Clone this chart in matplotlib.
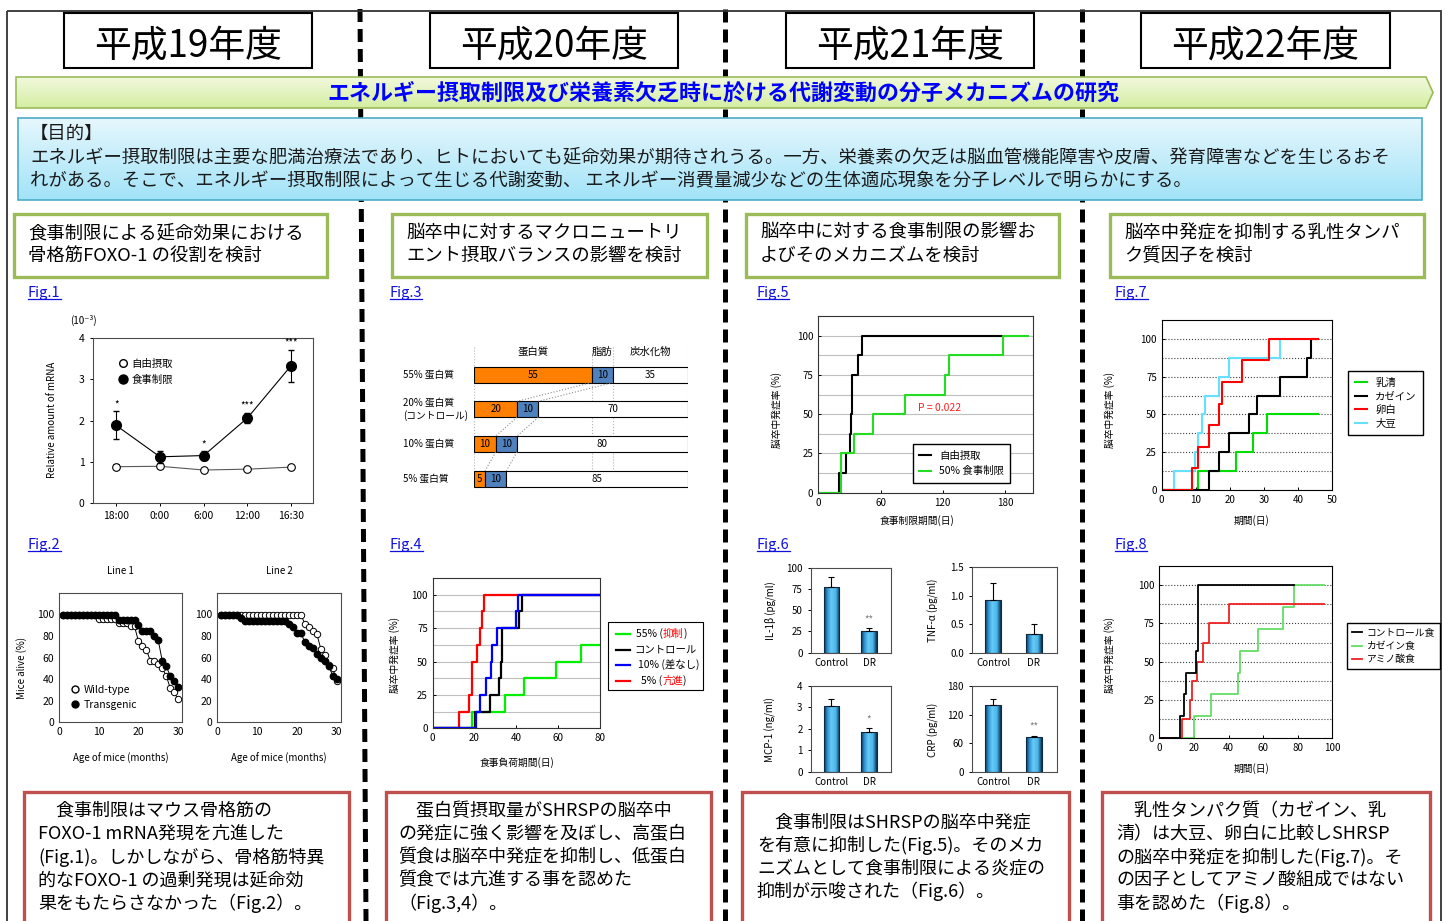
"""Research summary poster: energy restriction, FOXO-1 and stroke in SHRSP."""

import matplotlib
matplotlib.use('Agg')
import matplotlib.pyplot as plt
import numpy as np
from matplotlib.colors import LinearSegmentedColormap
from matplotlib.lines import Line2D
from matplotlib.patches import Polygon, Rectangle

plt.rcParams['font.family'] = ['Noto Sans CJK JP', 'DejaVu Sans']
plt.rcParams['font.size'] = 7
plt.rcParams['axes.linewidth'] = 0.8
plt.rcParams['xtick.major.size'] = 2.5
plt.rcParams['ytick.major.size'] = 2.5
plt.rcParams['xtick.major.width'] = 0.7
plt.rcParams['ytick.major.width'] = 0.7

W, H = 1450, 921

# ---------------------------------------------------------------- texts
year_titles = ['平成19年度', '平成20年度', '平成21年度', '平成22年度']
banner_title = 'エネルギー摂取制限及び栄養素欠乏時に於ける代謝変動の分子メカニズムの研究'
purpose_head = '【目的】'
purpose_lines = [
    'エネルギー摂取制限は主要な肥満治療法であり、ヒトにおいても延命効果が期待されうる。'
    '一方、栄養素の欠乏は脳血管機能障害や皮膚、発育障害などを生じるおそ',
    'れがある。そこで、エネルギー摂取制限によって生じる代謝変動、 '
    'エネルギー消費量減少などの生体適応現象を分子レベルで明らかにする。',
]
topic_lines = [
    ['食事制限による延命効果における', '骨格筋FOXO-1 の役割を検討'],
    ['脳卒中に対するマクロニュートリ', 'エント摂取バランスの影響を検討'],
    ['脳卒中に対する食事制限の影響お', 'よびそのメカニズムを検討'],
    ['脳卒中発症を抑制する乳性タンパ', 'ク質因子を検討'],
]
summary_lines = [
    ['　食事制限はマウス骨格筋の', 'FOXO-1 mRNA発現を亢進した',
     '(Fig.1)。しかしながら、骨格筋特異', '的なFOXO-1 の過剰発現は延命効',
     '果をもたらさなかった（Fig.2）。'],
    ['　蛋白質摂取量がSHRSPの脳卒中', 'の発症に強く影響を及ぼし、高蛋白',
     '質食は脳卒中発症を抑制し、低蛋白', '質食では亢進する事を認めた',
     '（Fig.3,4）。'],
    ['　食事制限はSHRSPの脳卒中発症', 'を有意に抑制した(Fig.5)。そのメカ',
     'ニズムとして食事制限による炎症の', '抑制が示唆された（Fig.6）。'],
    ['　乳性タンパク質（カゼイン、乳', '清）は大豆、卵白に比較しSHRSP',
     'の脳卒中発症を抑制した(Fig.7)。そ', 'の因子としてアミノ酸組成ではない',
     '事を認めた（Fig.8）。'],
]
fig_names = [['Fig.1', 'Fig.2'], ['Fig.3', 'Fig.4'],
             ['Fig.5', 'Fig.6'], ['Fig.7', 'Fig.8']]

# ---------------------------------------------------------------- Fig.1
fig1_times = ['18:00', '0:00', '6:00', '12:00', '16:30']
fig1_free = [0.88, 0.89, 0.80, 0.82, 0.87]
fig1_free_err = [0.06, 0.04, 0.02, 0.02, 0.02]
fig1_dr = [1.88, 1.12, 1.15, 2.06, 3.33]
fig1_dr_err = [0.34, 0.15, 0.10, 0.13, 0.39]
fig1_stars = ['*', '', '*', '***', '***']
fig1_legend = ['自由摂取', '食事制限']

# ---------------------------------------------------------------- Fig.2
fig2_months = list(range(1, 31))
fig2_line1_wt = [100, 100, 100, 100, 100, 100, 100, 100, 100, 96,
                 96, 96, 96, 96, 92, 92, 92, 89, 89, 75,
                 71, 67, 57, 57, 54, 50, 43, 32, 28, 21]
fig2_line1_tg = [100, 100, 100, 100, 100, 100, 100, 100, 100, 100,
                 100, 100, 100, 100, 95, 95, 95, 95, 95, 90,
                 85, 85, 85, 80, 76, 57, 52, 43, 38, 33]
fig2_line2_wt = [100, 100, 100, 100, 100, 100, 100, 100, 100, 100,
                 100, 100, 100, 100, 100, 100, 100, 100, 100, 100,
                 100, 91, 88, 85, 82, 68, 62, 53, 50, 38]
fig2_line2_tg = [100, 100, 100, 100, 100, 97, 94, 94, 94, 94,
                 94, 94, 94, 94, 94, 94, 94, 91, 88, 83,
                 83, 74, 71, 69, 63, 60, 57, 52, 43, 40]
fig2_titles = ['Line 1', 'Line 2']
fig2_legend = ['Wild-type', 'Transgenic']

# ---------------------------------------------------------------- Fig.3
fig3_rows = ['55% 蛋白質', '20% 蛋白質\n(コントロール)', '10% 蛋白質', '5% 蛋白質']
fig3_protein = [55, 20, 10, 5]
fig3_fat = [10, 10, 10, 10]
fig3_carb = [35, 70, 80, 85]
fig3_headers = ['蛋白質', '脂肪', '炭水化物']

# ---------------------------------------------------------------- Fig.4
fig4_labels = ['55% (抑制)', 'コントロール', '10% (差なし)', '5% (亢進)']
fig4_highlight = ['抑制', None, None, '亢進']
fig4_days = [
    [0, 18.6, 34.6, 43.8, 59.0, 70.9, 80],
    [0, 20.2, 27.6, 31.6, 32.5, 33.3, 41.4, 42.5, 80],
    [0, 20.6, 22.6, 25.5, 27.7, 28.5, 30.6, 39.8, 41.0, 80],
    [0, 12.6, 17.5, 18.6, 21.4, 22.6, 23.4, 24.5, 80],
]
fig4_pct = [
    [0, 12.5, 25, 37.5, 50, 62.5, 62.5],
    [0, 12.5, 25, 37.5, 50, 75, 87.5, 100, 100],
    [0, 12.5, 25, 37.5, 50, 62.5, 75, 87.5, 100, 100],
    [0, 12.5, 25, 50, 62.5, 75, 87.5, 100, 100],
]
fig4_colors = ['#00ee00', 'black', '#0000ff', '#ff0000']

# ---------------------------------------------------------------- Fig.5
fig5_labels = ['自由摂取', '50% 食事制限']
fig5_days = [
    [0, 19.9, 26.7, 30.5, 31.8, 32.8, 38.6, 41.8, 178.4],
    [0, 21.9, 34.7, 53.0, 83.6, 122.0, 126.0, 178.4, 202.5],
]
fig5_pct = [
    [0, 12.5, 25, 37.5, 50, 75, 87.5, 100, 100],
    [0, 25, 37.5, 50, 62.5, 75, 87.5, 100, 100],
]
fig5_colors = ['black', '#22dd22']
fig5_p = 'P = 0.022'

# ---------------------------------------------------------------- Fig.6
fig6_groups = ['Control', 'DR']
fig6_names = ['IL-1β (pg/ml)', 'TNF-α (pg/ml)', 'MCP-1 (ng/ml)', 'CRP (pg/ml)']
fig6_means = [[77, 26], [0.92, 0.33], [3.05, 1.85], [141, 72]]
fig6_errs = [[12, 3.5], [0.29, 0.17], [0.32, 0.18], [12, 4]]
fig6_stars = [['', '**'], ['', ''], ['', '*'], ['', '**']]
fig6_ymax = [100, 1.5, 4, 180]
fig6_ticks = [[0, 25, 50, 75, 100], [0.0, 0.5, 1.0, 1.5], [0, 1, 2, 3, 4],
              [0, 60, 120, 180]]

# ---------------------------------------------------------------- Fig.7
fig7_labels = ['乳清', 'カゼイン', '卵白', '大豆']
fig7_days = [
    [0, 10.7, 21.7, 26.7, 30.8, 45.7],
    [0, 13.9, 16.7, 19.7, 25.7, 27.8, 34.7, 42.7, 43.8, 45.7],
    [0, 8.8, 10.7, 13.9, 16.8, 17.6, 23.6, 31.5, 45.7],
    [0, 3.6, 9.8, 10.7, 11.7, 12.7, 16.7, 19.7, 34.7],
]
fig7_pct = [
    [0, 12.5, 25, 37.5, 50, 50],
    [0, 12.5, 25, 37.5, 50, 62.5, 75, 87.5, 100, 100],
    [0, 14.3, 28.6, 42.9, 57.1, 71.4, 85.7, 100, 100],
    [0, 12.5, 25, 37.5, 50, 62.5, 75, 87.5, 100],
]
fig7_colors = ['#00dd00', 'black', '#ff0000', '#66e0ff']
fig7_order = [0, 1, 3, 2]

# ---------------------------------------------------------------- Fig.8
fig8_labels = ['コントロール食', 'カゼイン食', 'アミノ酸食']
fig8_days = [
    [0, 11.9, 14.5, 15.4, 21.2, 22.5, 77.6],
    [0, 20.2, 29.7, 45.7, 46.4, 57.2, 71.7, 77.6, 95.4],
    [0, 13.3, 17.7, 18.7, 21.6, 25.4, 28.7, 40.5, 95.4],
]
fig8_pct = [
    [0, 14.3, 28.6, 42.9, 57.1, 100, 100],
    [0, 14.3, 28.6, 42.9, 57.1, 71.4, 85.7, 100, 100],
    [0, 12.5, 25, 37.5, 50, 62.5, 75, 87.5, 87.5],
]
fig8_colors = ['black', '#66dd66', '#ee2222']
fig8_order = [1, 2, 0]

stroke_ylabel = '脳卒中発症率 (%)'


def px_axes(fig, x0, y0, x1, y1):
    """Axes placed by pixel box (y measured from the top)."""
    ax = fig.add_axes([x0 / W, 1 - y1 / H, (x1 - x0) / W, (y1 - y0) / H])
    ax.patch.set_alpha(0)
    return ax


def gradient_fill(bg, patch, top, bottom):
    bg.add_patch(patch)
    x0, y0 = patch.get_path().vertices.min(axis=0)
    x1, y1 = patch.get_path().vertices.max(axis=0)
    if isinstance(patch, Rectangle):
        x0, y0 = patch.get_x(), patch.get_y()
        x1, y1 = x0 + patch.get_width(), y0 + patch.get_height()
    cmap = LinearSegmentedColormap.from_list('fill', [top, bottom])
    im = bg.imshow(np.linspace(0, 1, 64).reshape(-1, 1), cmap=cmap,
                   extent=(x0, x1, y1, y0), origin='upper', aspect='auto',
                   zorder=2)
    im.set_clip_path(patch)


def rich_text(ax, x, y, pieces, **kw):
    t = ax.text(x, y, pieces[0][0], color=pieces[0][1], va='center',
                ha='left', **kw)
    for s, c in pieces[1:]:
        t = ax.annotate(s, xy=(1, 0.5), xycoords=t, va='center', ha='left',
                        color=c, **kw)


def stroke_axes(ax, xmax, xticks, dotted):
    ax.set_xlim(0, xmax)
    ax.set_ylim(0, 112.5)
    ax.set_xticks(xticks)
    ax.set_yticks([0, 25, 50, 75, 100])
    ax.set_yticks(np.arange(12.5, 101, 12.5), minor=True)
    ax.tick_params(which='minor', length=0)
    ax.tick_params(direction='in', labelsize=7)
    if dotted:
        ax.grid(axis='y', which='both', color='0.25', ls=':', lw=0.8)
    else:
        ax.grid(axis='y', which='both', color='0.75', lw=0.8)
    ax.set_axisbelow(True)
    for s in ax.spines.values():
        s.set_color('0.2' if not dotted else 'black')


fig = plt.figure(figsize=(W / 100, H / 100), dpi=100)
bg = fig.add_axes([0, 0, 1, 1])
bg.set_xlim(0, W)
bg.set_ylim(H, 0)
bg.set_autoscale_on(False)
bg.axis('off')

# ---------------------------------------------------------------- frame
bg.add_patch(Rectangle((7, 11), 1434, 940, fill=False, ec='#333333',
                       lw=1.3, zorder=1.5))
for (xt, xb) in [(360, 366), (725, 725), (1082, 1082)]:
    bg.plot([xt, xb], [9, H], color='black', lw=3.6, ls=(0, (2.6, 1.4)),
            zorder=1)

for title, (x0, x1) in zip(year_titles, [(64, 312), (430, 678),
                                          (786, 1034), (1141, 1390)]):
    bg.add_patch(Rectangle((x0, 13), x1 - x0, 55, fc='white', ec='black',
                           lw=1.5, zorder=3))
    bg.text((x0 + x1) / 2, 46, title, fontsize=26.5, ha='center',
            va='center', zorder=4)

banner = Polygon([(16, 77), (1426, 77), (1433, 92.5), (1426, 108), (16, 108)],
                 closed=True, fc='none', ec='#9bbb59', lw=1.2, zorder=3)
gradient_fill(bg, banner, '#f1f9dd', '#d5eea2')
bg.text(723, 93, banner_title, fontsize=15.8, fontweight='bold',
        color='#0000ff', ha='center', va='center', zorder=4)

purpose = Rectangle((18, 118), 1404, 82, fc='none', ec='#4bacc6', lw=1.2,
                    zorder=3)
gradient_fill(bg, purpose, '#e6f7fd', '#a2e3f8')
bg.text(30, 134, purpose_head, fontsize=13.2, color='#1a1a1a', va='center',
        zorder=4)
for i, line in enumerate(purpose_lines):
    bg.text(30, 157 + 24 * i, line, fontsize=13.2, color='#1a1a1a',
            va='center', zorder=4)

for lines, (x0, x1), tx in zip(topic_lines,
                               [(14, 327), (392, 707), (746, 1059),
                                (1110, 1424)],
                               [28, 406, 760, 1124]):
    bg.add_patch(Rectangle((x0, 214), x1 - x0, 63, fc='white', ec='#9bbb59',
                           lw=2.4, zorder=3))
    for i, line in enumerate(lines):
        bg.text(tx, 233 + 23 * i, line, fontsize=13.2, va='center', zorder=4)

for lines, (x0, x1), tx, ty in zip(summary_lines,
                                   [(24, 349), (386, 711), (742, 1069),
                                    (1102, 1430)],
                                   [38, 398, 757, 1116],
                                   [811, 811, 822, 811]):
    bg.add_patch(Rectangle((x0, 792), x1 - x0, 160, fc='white', ec='#c0504d',
                           lw=2.4, zorder=3))
    for i, line in enumerate(lines):
        bg.text(tx, ty + 23 * i, line, fontsize=13, va='center', zorder=4)

fig_label_texts = []
for names, fx in zip(fig_names, [28, 390, 757, 1115]):
    for name, fy in zip(names, [293, 545]):
        fig_label_texts.append(bg.text(fx, fy, name, fontsize=10.5,
                                       color='#1010e0', va='center',
                                       zorder=4))

# ---------------------------------------------------------------- Fig.1
ax1 = px_axes(fig, 93, 338, 313, 503)
x1 = np.arange(len(fig1_times))
ax1.errorbar(x1, fig1_free, yerr=fig1_free_err, fmt='-o', color='0.35',
             mfc='white', mec='black', ms=5.5, mew=0.8, lw=0.8,
             ecolor='black', elinewidth=0.8, capsize=2, zorder=3)
ax1.errorbar(x1, fig1_dr, yerr=fig1_dr_err, fmt='-o', color='black',
             mfc='black', mec='black', ms=7, lw=0.8, elinewidth=0.8,
             capsize=2, zorder=4)
for xi, yi, ei, st in zip(x1, fig1_dr, fig1_dr_err, fig1_stars):
    ax1.text(xi, yi + ei + 0.05, st, ha='center', va='bottom', fontsize=7)
ax1.set_xlim(-0.53, 4.5)
ax1.set_ylim(0, 4)
ax1.set_xticks(x1, fig1_times)
ax1.set_yticks([0, 1, 2, 3, 4])
ax1.tick_params(labelsize=7.5)
for s in ax1.spines.values():
    s.set_color('0.3')
ax1.legend([Line2D([], [], ls='none', marker='o', mfc='white', mec='black',
                   ms=5.5),
            Line2D([], [], ls='none', marker='o', mfc='black', mec='black',
                   ms=6.5)],
           fig1_legend, loc='upper left', bbox_to_anchor=(0.08, 0.93),
           frameon=False, handlelength=0.6, handletextpad=0.5,
           labelspacing=0.55, fontsize=7.5)
bg.text(70, 320, '(10⁻³)', fontsize=7, va='center')
bg.text(52, 420, 'Relative amount of mRNA', fontsize=7, rotation=90,
        ha='center', va='center')

# ---------------------------------------------------------------- Fig.2
for k, (x0, x1p, wt, tg) in enumerate([(59.3, 182, fig2_line1_wt,
                                        fig2_line1_tg),
                                       (217.3, 340.7, fig2_line2_wt,
                                        fig2_line2_tg)]):
    ax = px_axes(fig, x0, 593, x1p, 722)
    ax.plot(fig2_months, wt, '-o', color='black', mfc='white', mec='black',
            ms=4.6, mew=0.7, lw=0.7)
    ax.plot(fig2_months, tg, '-o', color='black', mfc='black', mec='black',
            ms=4.6, lw=0.7)
    ax.set_xlim(0, 31)
    ax.set_ylim(0, 120)
    ax.set_xticks([0, 10, 20, 30])
    ax.set_yticks([0, 20, 40, 60, 80, 100])
    ax.tick_params(labelsize=7.5, length=0)
    for s in ax.spines.values():
        s.set_color('0.3')
    ax.set_title(fig2_titles[k], fontsize=7, pad=14)
    ax.text(0.5, -0.28, 'Age of mice (months)', transform=ax.transAxes,
            ha='center', va='center', fontsize=7)
    if k == 0:
        ax.legend([Line2D([], [], ls='none', marker='o', mfc='white',
                          mec='black', ms=5),
                   Line2D([], [], ls='none', marker='o', mfc='black',
                          mec='black', ms=5)],
                  fig2_legend, loc='upper left', bbox_to_anchor=(0.03, 0.36),
                  frameon=False, handlelength=0.6, handletextpad=0.5,
                  labelspacing=0.45, fontsize=7.5)
bg.text(22, 668, 'Mice alive (%)', fontsize=7, rotation=90, ha='center',
        va='center')

# ---------------------------------------------------------------- Fig.3
ax3 = px_axes(fig, 474.3, 345, 687.7, 490)
rows = np.arange(len(fig3_rows))
bh = 0.46
ax3.barh(rows, fig3_protein, height=bh, color='#ff8000', ec='black', lw=0.8)
ax3.barh(rows, fig3_fat, left=fig3_protein, height=bh, color='#4f81bd',
         ec='black', lw=0.8)
left_c = np.add(fig3_protein, fig3_fat)
ax3.barh(rows, fig3_carb, left=left_c, height=bh, color='white', ec='black',
         lw=0.8)
for r, p, f, c in zip(rows, fig3_protein, fig3_fat, fig3_carb):
    ax3.text(p / 2, r, str(p), ha='center', va='center', fontsize=7)
    ax3.text(p + f / 2, r, str(f), ha='center', va='center', fontsize=7)
    ax3.text(p + f + c / 2, r, str(c), ha='center', va='center', fontsize=7)
for r in rows[:-1]:
    for a, b in [(fig3_protein[r], fig3_protein[r + 1]),
                 (left_c[r], left_c[r + 1])]:
        ax3.plot([a, b], [r + bh / 2, r + 1 - bh / 2], color='0.55', ls=':',
                 lw=0.8)
bounds = [0, fig3_protein[0], left_c[0], 100]
for b in bounds:
    ax3.plot([b, b], [-0.78, 3.27], color='0.7', ls=':', lw=0.8, zorder=0)
for name, a, b in zip(fig3_headers, bounds[:-1], bounds[1:]):
    ax3.text((a + b) / 2, -0.64, name, ha='center', va='center', fontsize=7.5)
for r, name in zip(rows, fig3_rows):
    ax3.text(-33.5, r, name, ha='left', va='center', fontsize=7,
             linespacing=1.25)
ax3.set_xlim(0, 100)
ax3.set_ylim(3.319, -0.848)
ax3.axis('off')

# ---------------------------------------------------------------- Fig.4
ax4 = px_axes(fig, 432.7, 578, 600, 728.3)
for i in [0, 3, 1, 2]:
    ax4.step(fig4_days[i], fig4_pct[i], where='post', color=fig4_colors[i],
             lw=1.6)
stroke_axes(ax4, 80, [0, 20, 40, 60, 80], dotted=False)
bg.add_patch(Rectangle((607.7, 621.7), 95, 68.3, fc='white', ec='black',
                       lw=0.8, zorder=3))
for i, (label, hl) in enumerate(zip(fig4_labels, fig4_highlight)):
    yy = 634 + 15.5 * i
    bg.plot([616, 630], [yy, yy], color=fig4_colors[i], lw=1.6, zorder=4)
    if hl:
        a, b = label.split(hl)
        pieces = [(a, 'black'), (hl, '#ff0000'), (b, 'black')]
    else:
        pieces = [(label, 'black')]
    rich_text(bg, [636, 634, 638, 641][i], yy, pieces, fontsize=7.5,
              zorder=4)
bg.text(395, 655, stroke_ylabel, rotation=90, ha='center', va='center',
        fontsize=7)
bg.text(517, 763, '食事負荷期間(日)', ha='center', va='center', fontsize=7)

# ---------------------------------------------------------------- Fig.5
ax5 = px_axes(fig, 818.3, 316, 1033.3, 492.7)
for days, pct, col, lab in zip(fig5_days, fig5_pct, fig5_colors,
                               fig5_labels):
    ax5.step(days, pct, where='post', color=col, lw=1.5, label=lab)
stroke_axes(ax5, 207.3, [0, 60, 120, 180], dotted=False)
ax5.text(0.464, 0.479, fig5_p, transform=ax5.transAxes, color='#ff2020',
         fontsize=7.5, va='center')
ax5.legend(loc='upper left', bbox_to_anchor=(0.417, 0.304), fontsize=7.5,
           frameon=True, fancybox=False, edgecolor='black', framealpha=1,
           handlelength=1.1, borderpad=0.6, labelspacing=0.55)
bg.text(777, 410, stroke_ylabel, rotation=90, ha='center', va='center',
        fontsize=7)
bg.text(917, 521, '食事制限期間(日)', ha='center', va='center', fontsize=7)

# ---------------------------------------------------------------- Fig.6
bar_cmap = LinearSegmentedColormap.from_list(
    'bar', [(0, '#0b3050'), (0.2, '#2d8fcc'), (0.45, '#66cbf8'),
            (0.75, '#4ab6ea'), (1, '#0b3050')])
grad = np.linspace(0, 1, 64).reshape(1, -1)
boxes6 = [(811, 567.7, 891, 652.7), (972.3, 566.7, 1056.7, 653.3),
          (811, 686, 891, 771.7), (972.3, 686, 1056.7, 771.7)]
ylab6 = [(770, 611), (933, 610), (770, 730), (933, 730)]
for k, box in enumerate(boxes6):
    ax = px_axes(fig, *box)
    xs = np.arange(len(fig6_groups))
    bars = ax.bar(xs, fig6_means[k], width=0.4, color='none',
                  ec='#0d2a44', lw=0.8, zorder=3)
    for b in bars:
        im = ax.imshow(grad, cmap=bar_cmap, aspect='auto', zorder=2,
                       extent=(b.get_x(), b.get_x() + b.get_width(), 0,
                               b.get_height()))
        im.set_clip_path(b)
    ax.errorbar(xs, fig6_means[k], yerr=[[0, 0], fig6_errs[k]], fmt='none',
                ecolor='black', elinewidth=0.8, capsize=2.5, capthick=0.8,
                zorder=4)
    for xi, m, e, st in zip(xs, fig6_means[k], fig6_errs[k], fig6_stars[k]):
        if st:
            ax.text(xi, m + e + 0.1 * fig6_ymax[k], st, ha='center',
                    va='center', color='0.5', fontsize=7)
    ax.set_xlim(-0.53, 1.58)
    ax.set_ylim(0, fig6_ymax[k])
    ax.set_xticks(xs, fig6_groups)
    ax.set_yticks(fig6_ticks[k])
    if k == 1:
        ax.set_yticklabels(['%.1f' % t for t in fig6_ticks[k]])
    ax.tick_params(axis='x', length=0, labelsize=7)
    ax.tick_params(axis='y', labelsize=7)
    for s in ax.spines.values():
        s.set_color('0.3')
    bg.text(ylab6[k][0], ylab6[k][1], fig6_names[k], rotation=90,
            ha='center', va='center', fontsize=7)

# ---------------------------------------------------------------- Fig.7
ax7 = px_axes(fig, 1161.7, 320, 1332.3, 490)
lines7 = {}
for i in fig7_order:
    lines7[i], = ax7.step(fig7_days[i], fig7_pct[i], where='post',
                          color=fig7_colors[i], lw=1.5)
stroke_axes(ax7, 50, [0, 10, 20, 30, 40, 50], dotted=True)
ax7.legend([lines7[i] for i in range(4)], fig7_labels, loc='upper left',
           bbox_to_anchor=(1.063, 0.729), fontsize=7.5, frameon=True,
           fancybox=False, edgecolor='black', framealpha=1,
           handlelength=1.2, borderpad=0.6, labelspacing=0.35)
bg.text(1110, 410, stroke_ylabel, rotation=90, ha='center', va='center',
        fontsize=7)
bg.text(1252, 521, '期間(日)', ha='center', va='center', fontsize=7)

# ---------------------------------------------------------------- Fig.8
ax8 = px_axes(fig, 1159.3, 566, 1332.3, 738.3)
lines8 = {}
for i in fig8_order:
    lines8[i], = ax8.step(fig8_days[i], fig8_pct[i], where='post',
                          color=fig8_colors[i], lw=1.3)
stroke_axes(ax8, 100, [0, 20, 40, 60, 80, 100], dotted=True)
ax8.legend([lines8[i] for i in range(3)], fig8_labels, loc='upper left',
           bbox_to_anchor=(1.058, 0.699), fontsize=7, frameon=True,
           fancybox=False, edgecolor='black', framealpha=1,
           handlelength=1.0, handletextpad=0.5, borderpad=0.5,
           labelspacing=0.35)
bg.text(1110, 655, stroke_ylabel, rotation=90, ha='center', va='center',
        fontsize=7)
bg.text(1252, 769, '期間(日)', ha='center', va='center', fontsize=7)

# underline the Fig.n link labels
fig.canvas.draw()
renderer = fig.canvas.get_renderer()
for t in fig_label_texts:
    bb = t.get_window_extent(renderer).transformed(bg.transData.inverted())
    yb = max(bb.y0, bb.y1) - 1
    bg.plot([bb.x0, bb.x1], [yb, yb], color='#1010e0', lw=0.9, zorder=4)

fig.savefig('out.png', dpi=100)
